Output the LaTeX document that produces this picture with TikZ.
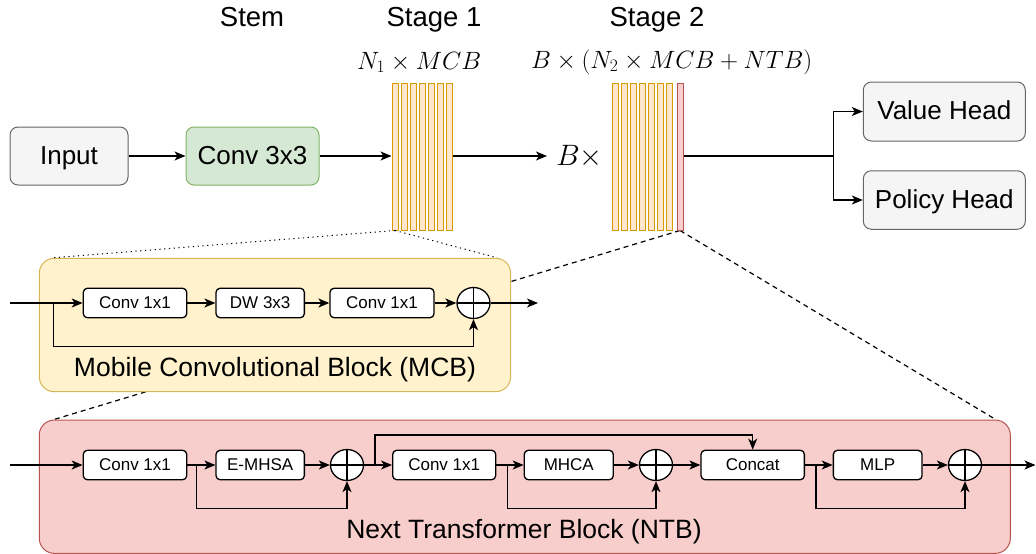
\RequirePackage{fix-cm}
\documentclass[tikz,border=0pt]{standalone}
\usepackage[no-math]{fontspec}
\setmainfont{Liberation Sans}
\usetikzlibrary{arrows.meta,shapes.geometric}
\pgfdeclarelayer{bg}
\pgfsetlayers{bg,main}
\definecolor{grayF}{HTML}{F5F5F5}
\definecolor{grayD}{HTML}{666666}
\definecolor{greenF}{HTML}{D5E8D4}
\definecolor{greenD}{HTML}{82B366}
\definecolor{orF}{HTML}{FFE6CC}
\definecolor{orD}{HTML}{D79B00}
\definecolor{yelF}{HTML}{FFF2CC}
\definecolor{yelD}{HTML}{D6B656}
\definecolor{redF}{HTML}{F8CECC}
\definecolor{redD}{HTML}{B85450}
\tikzset{
  bigtxt/.style={font=\fontsize{26}{30}\selectfont},
  stagetxt/.style={font=\fontsize{27.5}{32}\selectfont, anchor=base, inner sep=0pt},
  paneltxt/.style={font=\fontsize{26.5}{30}\selectfont, anchor=base, inner sep=0pt},
  headbox/.style={draw=grayD, fill=grayF, rounded corners=8pt, line width=1pt,
    minimum height=58pt, inner sep=0pt, text height=22pt, text depth=6pt, bigtxt},
  smallbox/.style={draw, fill=white, rounded corners=4pt, line width=1.3pt,
    minimum height=29.4pt, inner sep=0pt, text height=14.5pt, text depth=4pt,
    font=\fontsize{17}{20}\selectfont},
  sumnode/.style={ellipse, draw, fill=white, minimum width=33pt, minimum height=31pt,
    inner sep=0pt, line width=1.3pt,
    path picture={\draw[line width=1.3pt] (path picture bounding box.north) -- (path picture bounding box.south)
      (path picture bounding box.west) -- (path picture bounding box.east);}},
  obar/.style={draw=orD, fill=orF, line width=1pt, minimum width=6pt, minimum height=147pt, inner sep=0pt},
  rbar/.style={draw=redD, fill=redF, line width=1pt, minimum width=6pt, minimum height=147pt, inner sep=0pt},
  panel/.style={rounded corners=15pt, line width=1pt, inner sep=0pt},
  arr/.style={-{Stealth[length=11pt,width=9pt,inset=3pt]}, line width=1.3pt},
  ln/.style={line width=1.3pt},
  dotln/.style={line width=1pt, dash pattern=on 1.2pt off 3.6pt},
  dashln/.style={line width=1.2pt, dash pattern=on 5pt off 4pt},
  mathlbl/.style={font=\fontsize{25}{30}\selectfont, inner sep=0pt, anchor=base}
}
\begin{document}
\begin{tikzpicture}[x=1pt,y=-1pt]
\useasboundingbox (0,0) rectangle (1036,554);

% ---- top labels
\node[stagetxt] (lstem) at (252,26.7) {Stem};
\node[stagetxt] (lst1) at (434,26.7) {Stage 1};
\node[stagetxt] (lst2) at (657,26.7) {Stage 2};
\node[mathlbl] (m1) at (419.2,69) {$N_1\times MCB$};
\node[mathlbl] (m2) at (671.7,68) {$B\times(N_2\times MCB+NTB)$};

% ---- top row
\node[headbox, minimum width=118pt] (input) at (69,156) {Input};
\node[headbox, draw=greenD, fill=greenF, minimum width=133pt] (stem) at (252.5,156) {Conv 3x3};
\foreach \i in {0,...,6} {
  \node[obar] (sa\i) at (395+9*\i,156.5) {};
  \node[obar] (sb\i) at (615.7+8.93*\i,156.5) {};
}
\node[rbar] (sr) at (680,156.5) {};
\node[font=\fontsize{29.5}{32}\selectfont, inner sep=0pt, anchor=base] (bx) at (579.5,165.5) {$B\times$};
\node[headbox, minimum width=162pt, minimum height=59pt] (value) at (944.3,111.5) {Value Head};
\node[headbox, minimum width=162pt, minimum height=58.5pt] (policy) at (944.3,200) {Policy Head};

\coordinate (bxin) at (547,156);
\coordinate (br) at (833.3,156);
\draw[arr] (input) -- (stem);
\draw[arr] (stem.east) -- (stem.east -| sa0.west);
\draw[arr] (sa6.east |- bxin) -- (bxin);
\draw[ln] (sr.east |- br) -- (br);
\draw[arr] (br) |- (value.west);
\draw[arr] (br) |- (policy.west);

% ---- panels
\node[panel, draw=yelD, fill=yelF, minimum width=471.4pt, minimum height=133.4pt] (mcb) at (275,325) {};
\node[panel, draw=redD, fill=redF, minimum width=971pt, minimum height=133.3pt] (ntb) at (524.8,486.7) {};

\begin{pgfonlayer}{bg}
\draw[dashln] (sr.south) -- ([xshift=15pt]ntb.north west);
\draw[dashln] (sr.south) -- ([xshift=-15pt]ntb.north east);
\end{pgfonlayer}
\draw[dotln] (sa0.south) -- ([xshift=14pt]mcb.north west);
\draw[dotln] (sa0.south) -- ([xshift=-14pt]mcb.north east);

% ---- MCB internals
\node[paneltxt] (lmcb) at (275,376.5) {Mobile Convolutional Block (MCB)};
\coordinate (min) at (10,303);
\coordinate (mskip) at (53.3,303);
\node[smallbox, minimum width=103.4pt] (mc1) at (135,303) {Conv 1x1};
\node[smallbox, minimum width=88.3pt] (mdw) at (260.2,303) {DW 3x3};
\node[smallbox, minimum width=104pt] (mc2) at (382,303) {Conv 1x1};
\node[sumnode] (msum) at (473.5,303) {};
\coordinate (mout) at (538,303);
\draw[arr] (min) -- (mc1);
\draw[arr] (mc1) -- (mdw);
\draw[arr] (mdw) -- (mc2);
\draw[arr] (mc2) -- (msum);
\draw[arr] (msum) -- (mout);
\draw[arr] (mskip) -- (53.3,346.7) -| (msum.south);

% ---- NTB internals
\node[paneltxt] (lntb) at (524,538.3) {Next Transformer Block (NTB)};
\coordinate (nin) at (10,465);
\node[smallbox, minimum width=103.4pt] (n1) at (135,465) {Conv 1x1};
\node[smallbox, minimum width=88.3pt] (nem) at (260.2,465) {E-MHSA};
\node[sumnode] (ns1) at (347,465) {};
\node[smallbox, minimum width=103pt] (n2) at (444.2,465) {Conv 1x1};
\node[smallbox, minimum width=89pt] (nmh) at (568.8,465) {MHCA};
\node[sumnode] (ns2) at (656,465) {};
\node[smallbox, minimum width=103.3pt] (ncat) at (752.7,465) {Concat};
\node[smallbox, minimum width=88.7pt] (nmlp) at (877.7,465) {MLP};
\node[sumnode] (ns3) at (965,465) {};
\coordinate (nout) at (1035.5,465);
\coordinate (k1) at (196.7,465);
\coordinate (k2) at (375,465);
\coordinate (k3) at (507.3,465);
\coordinate (k4) at (816,465);
\draw[arr] (nin) -- (n1);
\draw[arr] (n1) -- (nem);
\draw[arr] (nem) -- (ns1);
\draw[arr] (ns1) -- (n2);
\draw[arr] (n2) -- (nmh);
\draw[arr] (nmh) -- (ns2);
\draw[arr] (ns2) -- (ncat);
\draw[arr] (ncat) -- (nmlp);
\draw[arr] (nmlp) -- (ns3);
\draw[arr] (ns3) -- (nout);
\draw[arr] (k1) -- (196.7,508.3) -| (ns1.south);
\draw[arr] (k3) -- (507.3,508.3) -| (ns2.south);
\draw[arr] (k4) -- (816,508.3) -| (ns3.south);
\draw[arr] (k2) -- (375,435) -| (ncat.north);
\end{tikzpicture}
\end{document}
